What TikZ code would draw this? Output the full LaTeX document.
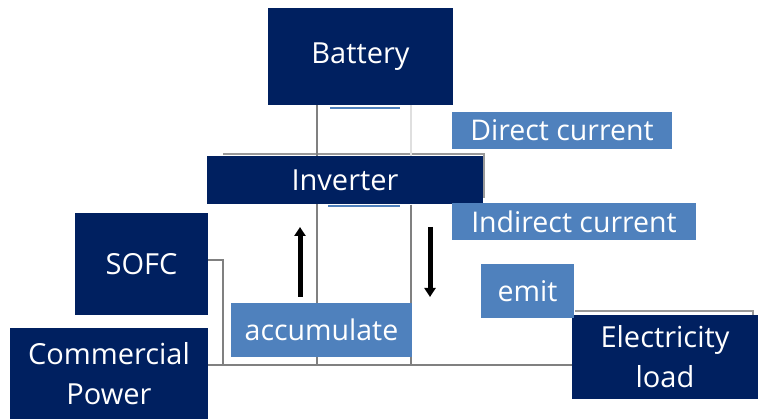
\documentclass[tikz,border=0pt]{standalone}
\usepackage{fontspec}
\setmainfont{Open Sans}
\usetikzlibrary{backgrounds,arrows.meta}
\definecolor{navy}{RGB}{0,32,96}
\definecolor{midblue}{RGB}{79,129,189}
\definecolor{linegray}{RGB}{128,128,128}
\tikzset{
  darkbox/.style={fill=navy, draw=none, text=white, inner sep=0pt, align=center,
    font=\fontsize{29}{40}\selectfont},
  labelbox/.style={fill=midblue, draw=none, text=white, inner sep=0pt, align=center,
    font=\fontsize{28.5}{34}\selectfont},
  wire/.style={draw=linegray, line width=1.6pt},
  flow/.style={line width=5pt, -{Triangle[length=9pt,width=11pt]}},
  shade/.style={draw=linegray!80, line width=1.5pt},
}
\begin{document}
\begin{tikzpicture}[x=1pt,y=-1pt]
\useasboundingbox (0,0) rectangle (758,419);
% dark boxes
\node[darkbox, minimum width=185pt, minimum height=97pt] (bat) at (360.5,56.5) {Battery};
\node[darkbox, minimum width=276pt, minimum height=48pt] (inv) at (345,180.5) {Inverter};
\node[darkbox, minimum width=133pt, minimum height=102pt] (sofc) at (141.5,264) {SOFC};
\node[darkbox, minimum width=198pt, minimum height=92pt] (cp) at (109,374) {Commercial\\Power};
\node[darkbox, minimum width=186pt, minimum height=84pt] (load) at (665,357) {Electricity\\load};
% label boxes
\node[labelbox, minimum width=220pt, minimum height=37pt] (dc) at (562,130.5) {Direct current};
\node[labelbox, minimum width=244pt, minimum height=37pt] (ic) at (574,221.5) {Indirect current};
\node[labelbox, minimum width=93pt, minimum height=54pt] (emit) at (527.5,291) {emit};
\node[labelbox, minimum width=181pt, minimum height=54pt] (acc) at (321.5,330) {accumulate};
% coordinates for wires
\coordinate (busy) at (0,365);
\coordinate (xa) at (317,0);
\coordinate (xb) at (411,0);
\coordinate (xs) at (223,0);
\coordinate (sofcy) at (0,260);
\coordinate (up1) at (300,297);
\coordinate (up2) at (300,227);
\coordinate (dn1) at (430,227);
\coordinate (dn2) at (430,297);
\begin{scope}[on background layer]
  % shadows
  \draw[shade] (223,154) -- (484,154) -- (484,198);
  \draw[shade] (575,311) -- (753,311) -- (753,318);
  % wires
  \draw[wire] (bat.south -| xa) -- (xa |- busy);
  \draw[draw=linegray!25, line width=1.2pt] (bat.south -| xb) -- (inv.north -| xb);
  \draw[wire] (inv.south -| xb) -- (xb |- busy);
  \draw[wire] (sofc.east |- sofcy) -- (xs |- sofcy) -- (xs |- busy);
  \draw[wire] (cp.east |- busy) -- (load.west |- busy);
\end{scope}
% thin blue lines
\draw[midblue, line width=2pt] (330,108) -- (400,108);
\draw[midblue, line width=2pt] (328,206.5) -- (400,206.5);
% flow arrows
\draw[flow] (up1) -- (up2);
\draw[flow] (dn1) -- (dn2);
\end{tikzpicture}
\end{document}
